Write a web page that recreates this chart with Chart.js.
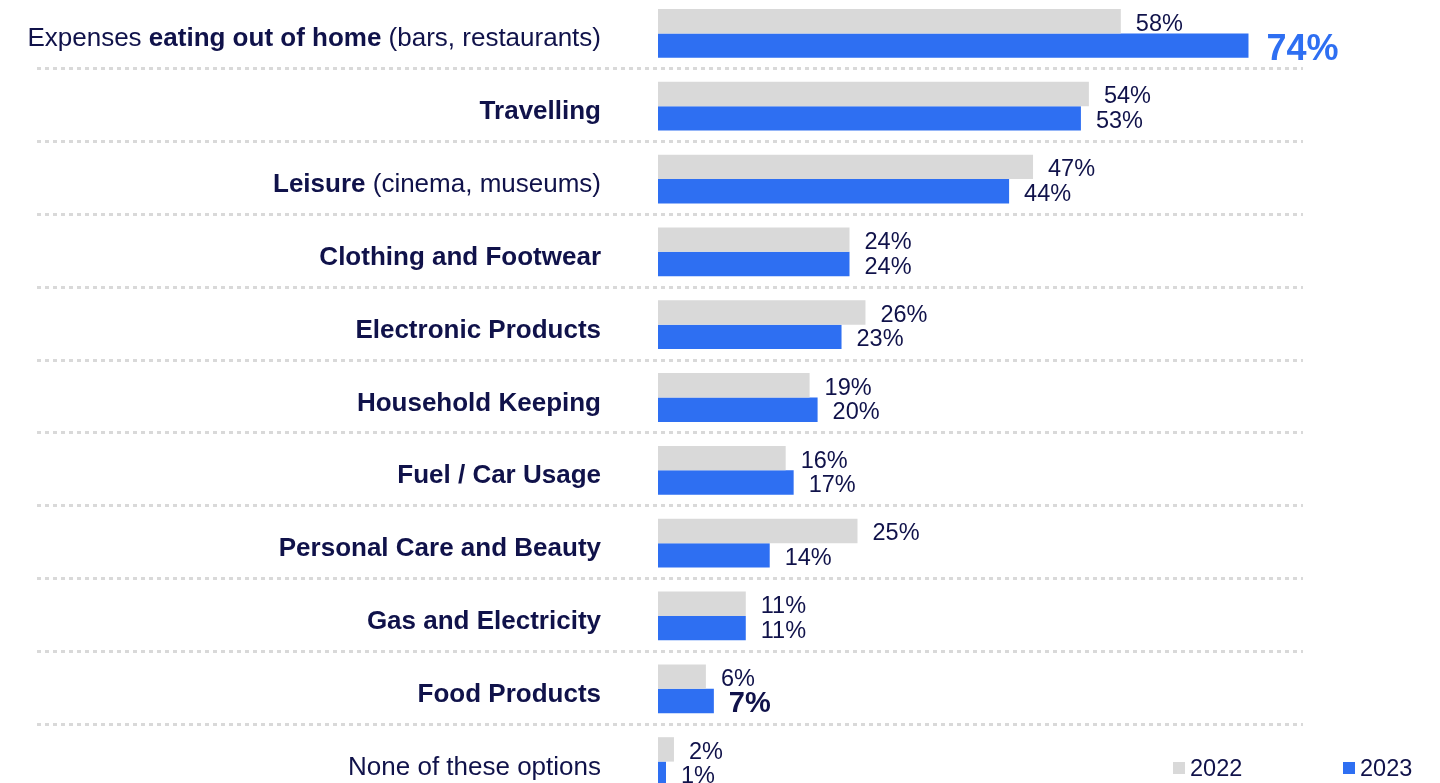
<!DOCTYPE html>
<html>
<head>
<meta charset="utf-8">
<title>Spending categories 2022 vs 2023</title>
<script src="https://cdn.jsdelivr.net/npm/chart.js"></script>
<style>
  html, body {
    margin: 0;
    padding: 0;
    background: #ffffff;
    overflow: hidden;
  }
  .chart-wrap {
    position: absolute;
    left: 0;
    top: -3px;
    width: 1440px;
    height: 801px;
  }
</style>
</head>
<body>
<div class="chart-wrap">
  <canvas id="spend-chart" width="1440" height="801"></canvas>
</div>

<script>
  "use strict";

  // Categories, with the part of each label that is set in bold
  var categories = [
    "Expenses eating out of home (bars, restaurants)",
    "Travelling",
    "Leisure (cinema, museums)",
    "Clothing and Footwear",
    "Electronic Products",
    "Household Keeping",
    "Fuel / Car Usage",
    "Personal Care and Beauty",
    "Gas and Electricity",
    "Food Products",
    "None of these options",
  ];
  var boldText = [
    "eating out of home",
    "Travelling",
    "Leisure",
    "Clothing and Footwear",
    "Electronic Products",
    "Household Keeping",
    "Fuel / Car Usage",
    "Personal Care and Beauty",
    "Gas and Electricity",
    "Food Products",
    "",
  ];

  // Share of answers, in percent
  var years = ["2022", "2023"];
  var values2022 = [58, 54, 47, 24, 26, 19, 16, 25, 11, 6, 2];
  var values2023 = [74, 53, 44, 24, 23, 20, 17, 14, 11, 7, 1];

  var NAVY = "#10124a";
  var BLUE = "#2e6ff2";
  var GREY = "#d9d9d9";
  var FONT = '"Liberation Sans", Arial, Helvetica, sans-serif';

  // Value labels that stand out: key is "dataset:index"
  var labelStyle = {
    "1:0": { size: 36, bold: true, color: BLUE, dx: 18 },
    "1:9": { size: 29, bold: true, color: NAVY, dx: 15 },
  };

  // Category labels left of the bars, mixing bold and regular text
  var categoryLabels = {
    id: "categoryLabels",
    afterDraw: function (chart) {
      var ctx = chart.ctx;
      var y = chart.scales.y;
      var right = 601;
      ctx.save();
      ctx.fillStyle = NAVY;
      ctx.textBaseline = "alphabetic";
      ctx.textAlign = "left";
      categories.forEach(function (label, i) {
        var bold = boldText[i];
        var parts = [];
        var at = bold ? label.indexOf(bold) : -1;
        if (at < 0) {
          parts.push([label, false]);
        } else {
          if (at > 0) parts.push([label.slice(0, at), false]);
          parts.push([bold, true]);
          if (at + bold.length < label.length) parts.push([label.slice(at + bold.length), false]);
        }
        var widths = parts.map(function (p) {
          ctx.font = (p[1] ? "bold " : "") + "26px " + FONT;
          return ctx.measureText(p[0]).width;
        });
        var total = widths.reduce(function (a, b) { return a + b; }, 0);
        var x = right - total;
        var baseline = y.getPixelForValue(i) + 13;
        parts.forEach(function (p, k) {
          ctx.font = (p[1] ? "bold " : "") + "26px " + FONT;
          ctx.fillText(p[0], x, baseline);
          x += widths[k];
        });
      });
      ctx.restore();
    },
  };

  // Dotted separators between the category rows
  var rowSeparators = {
    id: "rowSeparators",
    beforeDatasetsDraw: function (chart) {
      var ctx = chart.ctx;
      var y = chart.scales.y;
      ctx.save();
      ctx.strokeStyle = GREY;
      ctx.lineWidth = 3;
      ctx.setLineDash([4, 4]);
      for (var i = 0; i < categories.length - 1; i++) {
        var py = Math.round((y.getPixelForValue(i) + y.getPixelForValue(i + 1)) / 2 - 1.5) + 0.5;
        ctx.beginPath();
        ctx.moveTo(37, py);
        ctx.lineTo(1303, py);
        ctx.stroke();
      }
      ctx.restore();
    },
  };

  // Percent labels at the end of each bar
  var valueLabels = {
    id: "valueLabels",
    afterDatasetsDraw: function (chart) {
      var ctx = chart.ctx;
      ctx.save();
      ctx.textAlign = "left";
      ctx.textBaseline = "alphabetic";
      chart.data.datasets.forEach(function (ds, d) {
        var meta = chart.getDatasetMeta(d);
        meta.data.forEach(function (bar, i) {
          var st = labelStyle[d + ":" + i] || { size: 23.5, bold: false, color: NAVY, dx: 15 };
          ctx.font = (st.bold ? "bold " : "") + st.size + "px " + FONT;
          ctx.fillStyle = st.color;
          ctx.fillText(ds.data[i] + "%", bar.x + st.dx, bar.y + st.size * 0.36 + 1);
        });
      });
      ctx.restore();
    },
  };

  // Legend in the lower right corner
  var cornerLegend = {
    id: "cornerLegend",
    afterDraw: function (chart) {
      var ctx = chart.ctx;
      var xs = [1173, 1343];
      var cy = 771;
      ctx.save();
      ctx.font = "23.5px " + FONT;
      ctx.textBaseline = "alphabetic";
      ctx.textAlign = "left";
      chart.data.datasets.forEach(function (ds, d) {
        ctx.fillStyle = ds.backgroundColor;
        ctx.fillRect(xs[d], cy - 6, 12, 12);
        ctx.fillStyle = NAVY;
        ctx.fillText(ds.label, xs[d] + 17, cy + 8);
      });
      ctx.restore();
    },
  };

  var ctx1 = document.getElementById("spend-chart").getContext("2d");
  var spendChart = new Chart(ctx1, {
    type: "bar",
    data: {
      labels: categories,
      datasets: [
        {
          label: years[0],
          data: values2022,
          backgroundColor: GREY,
        },
        {
          label: years[1],
          data: values2023,
          backgroundColor: BLUE,
        },
      ],
    },
    options: {
      indexAxis: "y",
      responsive: false,
      animation: false,
      devicePixelRatio: 1,
      datasets: {
        bar: {
          categoryPercentage: 0.67,
          barPercentage: 1.0,
          borderWidth: 0,
        },
      },
      layout: {
        padding: { left: 658, right: 0, top: 0, bottom: 0 },
      },
      scales: {
        x: { display: false, min: 0, max: 98 },
        y: { display: false, offset: true },
      },
      plugins: {
        legend: { display: false },
        tooltip: { enabled: false },
      },
    },
    plugins: [rowSeparators, valueLabels, categoryLabels, cornerLegend],
  });
</script>
</body>
</html>
